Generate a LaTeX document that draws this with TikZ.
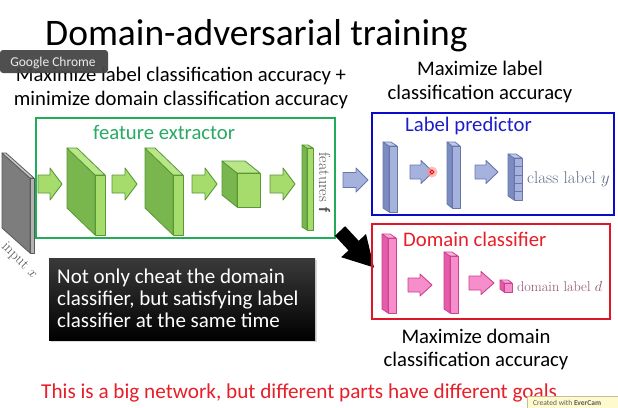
\documentclass[tikz,border=0pt]{standalone}
\usepackage{fontspec}
\setmainfont{Carlito}
\newfontfamily\lmr{Latin Modern Roman}
\definecolor{gS}{RGB}{122,182,78}
\definecolor{gF}{RGB}{165,220,108}
\definecolor{gT}{RGB}{185,230,135}
\definecolor{gL}{RGB}{88,152,55}
\definecolor{kS}{RGB}{125,125,125}
\definecolor{kF}{RGB}{178,178,178}
\definecolor{kT}{RGB}{200,200,200}
\definecolor{kL}{RGB}{90,90,90}
\definecolor{bS}{RGB}{125,140,192}
\definecolor{bF}{RGB}{165,178,222}
\definecolor{bT}{RGB}{192,202,236}
\definecolor{bL}{RGB}{105,118,172}
\definecolor{pS}{RGB}{228,92,170}
\definecolor{pF}{RGB}{245,142,202}
\definecolor{pT}{RGB}{250,175,218}
\definecolor{pL}{RGB}{205,65,145}
\definecolor{boxgreen}{RGB}{35,172,88}
\definecolor{txtgreen}{RGB}{40,170,100}
\definecolor{boxblue}{RGB}{10,10,205}
\definecolor{txtblue}{RGB}{30,30,200}
\definecolor{boxred}{RGB}{222,22,40}
\definecolor{txtred}{RGB}{232,30,40}
\definecolor{lblgray}{RGB}{85,85,85}
\definecolor{lblblue}{RGB}{100,110,140}
\definecolor{lblpink}{RGB}{145,80,112}
\definecolor{chromebg}{RGB}{72,72,72}
\definecolor{everbg}{RGB}{255,250,205}
\newcommand\fs[1]{\fontsize{#1}{#1}\selectfont}
% slab: x y w h dx dy colourprefix
\newcommand\slabx[7]{%
\filldraw[fill=#7S,draw=#7L,line join=round,line width=0.8pt] (#1,#2) -- (#1,{#2+#4}) -- ({#1-#5},{#2+#4-#6}) -- ({#1-#5},{#2-#6}) -- cycle;
\filldraw[fill=#7T,draw=#7L,line join=round,line width=0.8pt] (#1,#2) -- ({#1+#3},#2) -- ({#1+#3-#5},{#2-#6}) -- ({#1-#5},{#2-#6}) -- cycle;
\filldraw[fill=#7F,draw=#7L,line join=round,line width=0.8pt] (#1,#2) rectangle ({#1+#3},{#2+#4});
}
% block arrow: x0 xtip xhead yc shafthalf headhalf colourprefix
\newcommand\barrow[7]{%
\filldraw[fill=#7F,draw=#7L,line join=round,line width=0.9pt] (#1,{#4-#5}) -- (#3,{#4-#5}) -- (#3,{#4-#6}) -- (#2,#4) -- (#3,{#4+#6}) -- (#3,{#4+#5}) -- (#1,{#4+#5}) -- cycle;
}
\begin{document}
\begin{tikzpicture}[x=1pt,y=-1pt,
  txt/.style={inner sep=0pt,anchor=base west},
  ctxt/.style={inner sep=0pt,anchor=base},
  frame/.style={line width=2.4pt}]
\useasboundingbox (0,0) rectangle (618,407);
\fill[white] (0,0) rectangle (618,407);

% title
\node[txt,font=\fs{37.5}] (title) at (45,45) {Domain-adversarial training};

% top texts
\node[ctxt,font=\fs{20.7}] (tl1) at (181,81) {Maximize label classification accuracy +};
\node[ctxt,font=\fs{20.7}] (tl2) at (181,105) {minimize domain classification accuracy};
\node[ctxt,font=\fs{20.7}] (tr1) at (480,75) {Maximize label};
\node[ctxt,font=\fs{20.7}] (tr2) at (480,99) {classification accuracy};

% Google Chrome tooltip
\fill[chromebg,rounded corners=3pt,opacity=0.96] (0,50) rectangle (108,73);
\node[ctxt,font=\fs{13.5},text={rgb,255:red,235;green,235;blue,235}] (chrome) at (53,66) {Google Chrome};

% feature extractor frame
\draw[frame,boxgreen] (36,118) rectangle (335,238);
\node[txt,font=\fs{20.7},text=txtgreen] (fe) at (93,139) {feature extractor};

% input slab
\slabx{30}{178}{4}{75}{28}{25}{k}
\node[txt,font=\lmr\fs{15},text=lblgray,rotate=-45] (inp) at (1,247) {input $x$};

% green layers
\barrow{38}{62}{50}{184}{9}{16}{g}
\slabx{95}{175}{10}{60}{28}{27}{g}
\barrow{112}{137}{125}{184}{9}{16}{g}
\slabx{173}{175}{10}{60}{28}{27}{g}
\barrow{192}{217}{205}{184}{9}{16}{g}
\slabx{237}{173}{23}{34}{15}{12}{g}
\barrow{270}{295}{283}{184}{9}{16}{g}
\slabx{307}{148}{6}{82}{5}{3}{g}
\node[txt,font=\lmr\fs{16},text=lblgray,rotate=-90] (feat) at (319,152) {features $\mathbf{f}$};

% arrow to label predictor
\barrow{343}{368}{356}{180}{7.5}{12}{b}

% label predictor
\draw[frame,boxblue] (372,113) rectangle (614,215);
\node[txt,font=\fs{20.7},text=txtblue] (lp) at (405,131) {Label predictor};
\slabx{389}{146}{8}{66}{6}{4}{b}
\barrow{410}{433}{421}{172}{7}{11.5}{b}
\fill[red!45,opacity=0.55] (432,172) circle (5.5);
\filldraw[fill=white,draw=red,line width=1.1pt] (432,172) circle (1.9);
\slabx{452}{146}{8}{62}{5}{4}{b}
\barrow{475}{498}{486}{172}{7}{11.5}{b}
\slabx{514}{158}{8}{42}{6}{4}{b}
\foreach \k in {1,...,4} {\draw[bL,line width=0.6pt] (514,{158+8.4*\k}) -- (522,{158+8.4*\k});}
\node[txt,font=\lmr\fs{17},text=lblblue] (cl) at (527,183) {class label $y$};

% black arrow
\fill[black] (345.1,226.2) -- (358.7,240.8) -- (366.0,234.0) -- (374,267.5) -- (341.2,257.2) -- (348.5,250.4) -- (334.9,235.8) -- cycle;

% domain classifier
\draw[frame,boxred] (372,224) rectangle (610,319);
\node[txt,font=\fs{20.7},text=txtred] (dc) at (403,246) {Domain classifier};
\slabx{388}{238}{8}{75}{6}{4}{p}
\barrow{408}{432}{420}{285}{7}{11}{p}
\slabx{450}{256}{8}{57}{6}{4}{p}
\barrow{469}{494}{481}{283}{7}{11.5}{p}
\slabx{504}{283}{8}{9}{4}{3}{p}
\node[txt,font=\lmr\fs{14.2},text=lblpink] (dl) at (517,291) {domain label $d$};

\node[ctxt,font=\fs{20.7}] (md1) at (476,343) {Maximize domain};
\node[ctxt,font=\fs{20.7}] (md2) at (476,366) {classification accuracy};

% black note box
\fill[black!40,opacity=0.35] (51,260) rectangle (317,342);
\shade[top color={rgb,255:red,58;green,58;blue,58},bottom color=black] (49,258) rectangle (315,340);
\node[txt,font=\fs{21},text=white] (n1) at (57,283) {Not only cheat the domain};
\node[txt,font=\fs{21},text=white] (n2) at (57,305) {classifier, but satisfying label};
\node[txt,font=\fs{21},text=white] (n3) at (57,327) {classifier at the same time};

% bottom red text
\node[txt,font=\fs{21.2},text=txtred] (bottom) at (41,398) {This is a big network, but different parts have different goals};

% EverCam badge
\filldraw[fill=everbg,draw={rgb,255:red,200;green,190;blue,150},line width=0.6pt] (527,396) rectangle (619,408);
\node[txt,font=\fs{7.5},text={rgb,255:red,90;green,90;blue,90}] (ever) at (533,405) {Created with \textbf{EverCam}};
\end{tikzpicture}
\end{document}
